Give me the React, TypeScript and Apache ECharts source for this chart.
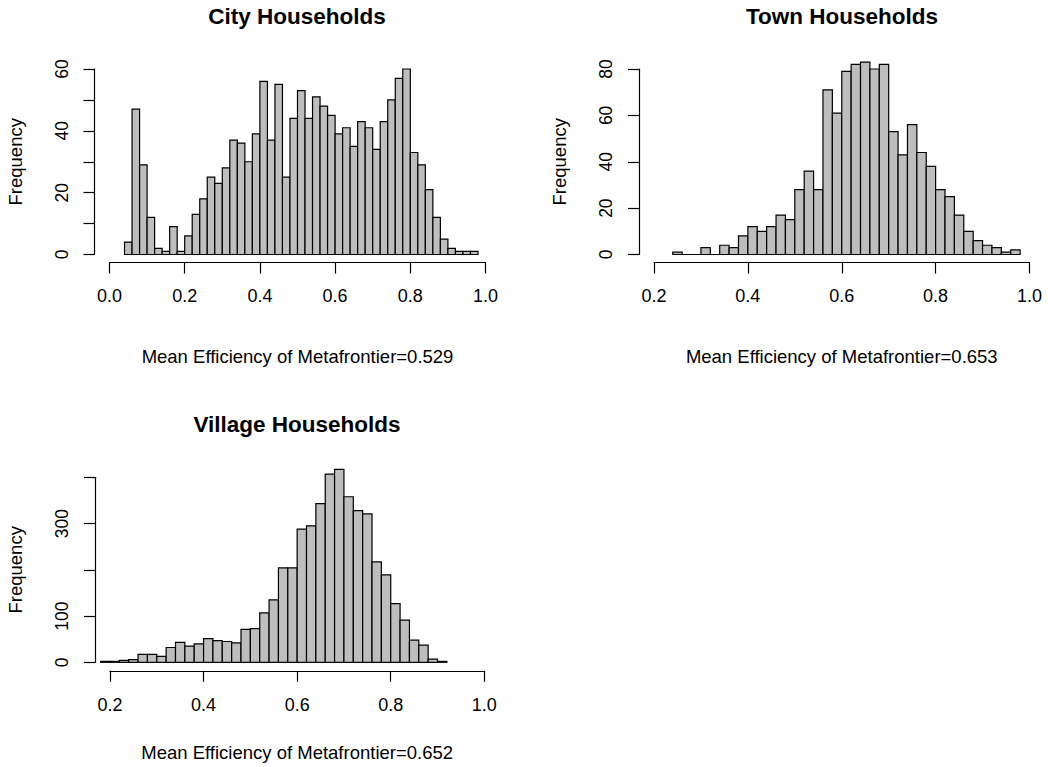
import React, { useEffect, useRef } from "react";
import * as echarts from "echarts";

// Histogram bins: every bin is 0.02 wide, counts start at the given left edge.
const binWidth = 0.02;

const cityStart = 0.04;
const cityCounts = [
  4, 47, 29, 12, 2, 1, 9, 1, 6, 13, 18, 25, 23, 28, 37, 36, 30, 39, 56, 37,
  55, 25, 44, 53, 44, 51, 48, 45, 39, 41, 35, 43, 41, 34, 43, 50, 57, 60, 33, 29,
  21, 12, 5, 2, 1, 1, 1,
];

const townStart = 0.24;
const townCounts = [
  1, 0, 0, 3, 0, 4, 3, 8, 12, 10, 12, 17, 15, 28, 36, 28, 71, 61, 79, 82,
  83, 80, 82, 53, 43, 56, 44, 38, 28, 25, 17, 10, 6, 4, 3, 1, 2,
];

const villageStart = 0.18;
const villageCounts = [
  2, 2, 4, 6, 17, 17, 13, 32, 43, 35, 40, 51, 47, 45, 42, 71, 73, 107, 135, 204,
  204, 288, 295, 343, 407, 417, 358, 328, 321, 217, 189, 127, 91, 48, 37, 7, 2,
];

const titles = ["City Households", "Town Households", "Village Households"];
const xNames = [
  "Mean Efficiency of Metafrontier=0.529",
  "Mean Efficiency of Metafrontier=0.653",
  "Mean Efficiency of Metafrontier=0.652",
];
const yName = "Frequency";

// Axis ranges and tick steps per panel
const xMins = [0, 0.2, 0.2];
const xMaxs = [1, 1, 1];
const yMaxs = [60, 80, 400];
const yTickSteps = [10, 20, 100];
const yLabelled = [[0, 20, 40, 60], [0, 20, 40, 60, 80], [0, 100, 300]];

const FONT = "'Liberation Sans', Arial, Helvetica, sans-serif";

// Pixel placement of each panel's data area and its decorations
const panels = [
  { left: 109.5, top: 69, width: 376, height: 185.5, titleX: 297, titleY: 16, xOffset: 8, xLabelMargin: 24, xNameGap: 84 },
  { left: 654, top: 69, width: 375.5, height: 185.5, titleX: 842, titleY: 16, xOffset: 8, xLabelMargin: 24, xNameGap: 84 },
  { left: 110, top: 477.3, width: 374.3, height: 185, titleX: 297, titleY: 424, xOffset: 8.5, xLabelMargin: 25, xNameGap: 72 },
];

function toBins(start: number, counts: number[]) {
  return counts.map((c, i) => [
    +(start + i * binWidth).toFixed(2),
    +(start + (i + 1) * binWidth).toFixed(2),
    c,
  ]);
}

export default function App() {
  const ref = useRef<HTMLDivElement>(null);

  useEffect(() => {
    if (!ref.current) return;
    const chart = echarts.init(ref.current, null, { renderer: "svg" });

    const binSets = [
      toBins(cityStart, cityCounts),
      toBins(townStart, townCounts),
      toBins(villageStart, villageCounts),
    ];

    const axisLineStyle = { color: "#000", width: 1.2 };

    chart.setOption({
      animation: false,
      backgroundColor: "#fff",
      graphic: panels.map((p, i) => ({
        type: "text",
        x: p.titleX,
        y: p.titleY,
        style: {
          text: titles[i],
          align: "center",
          verticalAlign: "middle",
          fontSize: 22.5,
          fontWeight: "bold",
          fontFamily: FONT,
          fill: "#000",
        },
      })),
      grid: panels.map((p) => ({
        left: p.left,
        top: p.top,
        width: p.width,
        height: p.height,
        containLabel: false,
        outerBoundsMode: "none",
      })),
      xAxis: panels.map((p, i) => ({
        type: "value",
        gridIndex: i,
        min: xMins[i],
        max: xMaxs[i],
        interval: 0.2,
        offset: p.xOffset,
        axisLine: { show: true, onZero: false, lineStyle: axisLineStyle },
        axisTick: { show: true, length: 11, lineStyle: axisLineStyle },
        splitLine: { show: false },
        axisLabel: {
          formatter: (v: number) => v.toFixed(1),
          margin: p.xLabelMargin,
          fontSize: 18,
          color: "#000",
          fontFamily: FONT,
        },
        name: xNames[i],
        nameLocation: "middle",
        nameGap: p.xNameGap,
        nameTextStyle: { fontSize: 18.5, color: "#000", fontFamily: FONT },
      })),
      yAxis: panels.map((_, i) => ({
        type: "value",
        gridIndex: i,
        min: 0,
        max: yMaxs[i],
        interval: yTickSteps[i],
        offset: 15,
        axisLine: { show: true, onZero: false, lineStyle: axisLineStyle },
        axisTick: { show: true, length: 11, lineStyle: axisLineStyle },
        splitLine: { show: false },
        axisLabel: {
          formatter: (v: number) => (yLabelled[i].includes(v) ? String(v) : ""),
          rotate: 90,
          margin: 24,
          fontSize: 17.5,
          color: "#000",
          fontFamily: FONT,
        },
        name: yName,
        nameLocation: "middle",
        nameGap: 70,
        nameTextStyle: { fontSize: 18.5, color: "#000", fontFamily: FONT },
      })),
      series: binSets.map((bins, i) => ({
        type: "custom",
        xAxisIndex: i,
        yAxisIndex: i,
        clip: false,
        data: bins,
        encode: { x: [0, 1], y: 2 },
        renderItem: (_params: any, api: any) => {
          const lo = api.coord([api.value(0), 0]);
          const hi = api.coord([api.value(1), api.value(2)]);
          return {
            type: "rect",
            shape: {
              x: lo[0],
              y: hi[1],
              width: hi[0] - lo[0],
              height: lo[1] - hi[1],
            },
            style: { fill: "#BEBEBE", stroke: "#000", lineWidth: 1.2 },
          };
        },
      })),
    });

    return () => chart.dispose();
  }, []);

  return (
    <div
      ref={ref}
      style={{ position: "absolute", left: 0, top: 0, width: 1048, height: 767, background: "#fff" }}
    />
  );
}
